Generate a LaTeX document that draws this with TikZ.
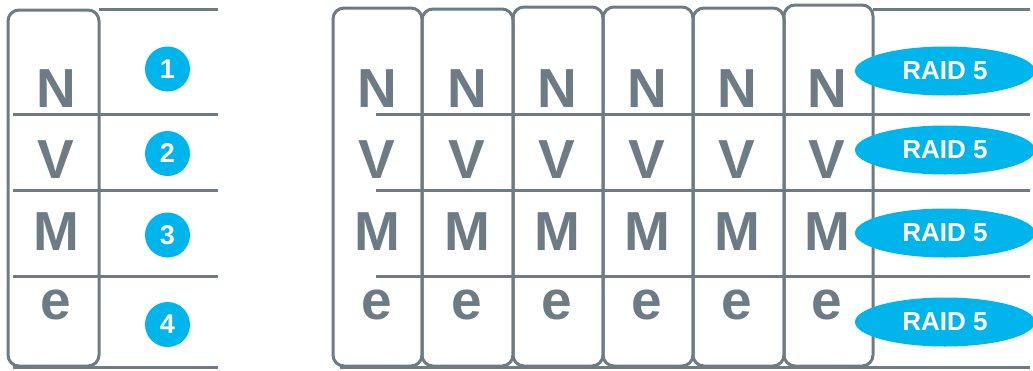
\documentclass[tikz,border=0pt]{standalone}
\usepackage{fontspec}
\setmainfont{Liberation Sans}
\usetikzlibrary{shapes.geometric}
\definecolor{slate}{HTML}{6C7B84}
\definecolor{cyanblue}{HTML}{00B4EC}
\begin{document}
\begin{tikzpicture}[x=0.5pt,y=-0.5pt,
  frame/.style={draw=slate,line width=1.5pt,rounded corners=5.5pt},
  rule/.style={draw=slate,line width=1.5pt},
  letter/.style={anchor=base,inner sep=0pt,text=slate,font=\fontsize{27.5}{27.5}\selectfont\bfseries},
  num/.style={circle,fill=cyanblue,minimum size=22.5pt,inner sep=0pt,text=white,font=\fontsize{13.5}{13.5}\selectfont\bfseries},
  raid/.style={ellipse,fill=cyanblue,minimum width=90pt,minimum height=24.5pt,inner sep=0pt,text=white,font=\fontsize{13}{13}\selectfont\bfseries}]
\useasboundingbox (0,0) rectangle (1033,370);
% ---------- left panel ----------
\draw[frame] (8,10) rectangle (99,366);
\coordinate (lt0) at (99,9);   \coordinate (lt1) at (218,9);
\coordinate (la0) at (13,114); \coordinate (la1) at (218,114);
\coordinate (lb0) at (13,190); \coordinate (lb1) at (218,190);
\coordinate (lc0) at (13,276); \coordinate (lc1) at (218,276);
\coordinate (ld0) at (13,367); \coordinate (ld1) at (218,367);
\draw[rule] (lt0) -- (lt1);
\draw[rule] (la0) -- (la1);
\draw[rule] (lb0) -- (lb1);
\draw[rule] (lc0) -- (lc1);
\draw[rule] (ld0) -- (ld1);
\node[letter] (lN) at (56,107) {N};
\node[letter] (lV) at (56,178) {V};
\node[letter] (lM) at (56,250) {M};
\node[letter] (le) at (56,319) {e};
\node[num] (n1) at (167.5,69) {1};
\node[num] (n2) at (167.5,153.5) {2};
\node[num] (n3) at (167.5,235) {3};
\node[num] (n4) at (167.5,324.5) {4};
% ---------- right panel ----------
\draw[frame] (333,8) rectangle (422,366);
\draw[frame] (422,9) rectangle (513,366);
\draw[frame] (513,7) rectangle (603,366);
\draw[frame] (603,7) rectangle (693,366);
\draw[frame] (693,8) rectangle (784,366);
\draw[frame] (784,5) rectangle (873,366);
\coordinate (rt0) at (873,9);   \coordinate (rt1) at (1030,9);
\coordinate (ra0) at (376,114); \coordinate (ra1) at (1030,114);
\coordinate (rb0) at (376,190); \coordinate (rb1) at (1030,190);
\coordinate (rc0) at (376,276); \coordinate (rc1) at (1030,276);
\coordinate (rd0) at (340,367); \coordinate (rd1) at (1030,367);
\draw[rule] (rt0) -- (rt1);
\draw[rule] (ra0) -- (ra1);
\draw[rule] (rb0) -- (rb1);
\draw[rule] (rc0) -- (rc1);
\draw[rule] (rd0) -- (rd1);
\foreach \c/\x in {1/377,2/467,3/557,4/647,5/737,6/827}{
  \node[letter] (N\c) at (\x,107) {N};
  \node[letter] (V\c) at (\x,178) {V};
  \node[letter] (M\c) at (\x,250) {M};
  \node[letter] (e\c) at (\x,319) {e};
}
\node[raid] (r1) at (945,71) {RAID 5};
\node[raid] (r2) at (945,150) {RAID 5};
\node[raid] (r3) at (945,233) {RAID 5};
\node[raid] (r4) at (945,322) {RAID 5};
\end{tikzpicture}
\end{document}
